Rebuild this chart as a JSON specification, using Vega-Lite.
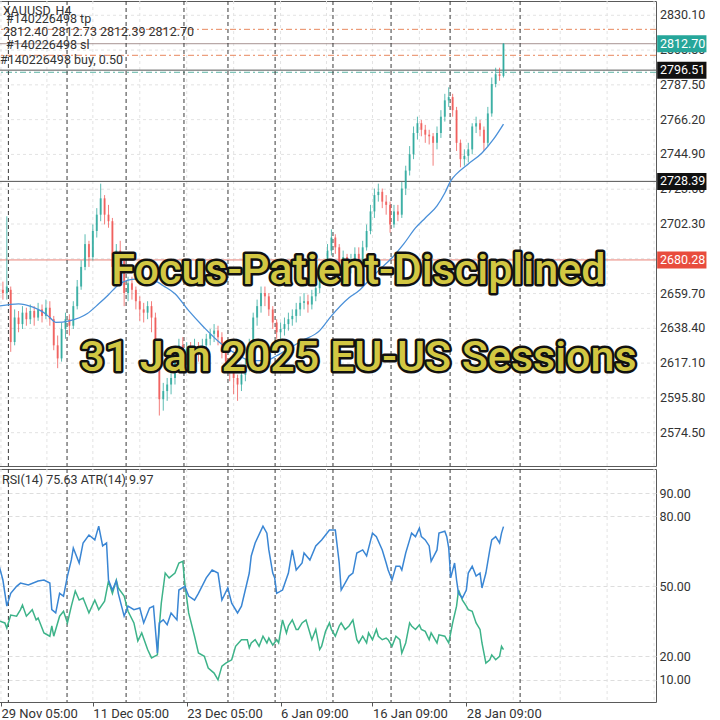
{
  "$schema": "https://vega.github.io/schema/vega-lite/v6.json",
  "padding": {"left": -5, "top": 0, "right": 0, "bottom": 0},
  "background": "white",
  "spacing": 1,
  "config": {
    "view": {"stroke": "#5a5a5a", "strokeWidth": 1},
    "font": "Roboto",
    "scale": {"continuousPadding": 0},
    "axis": {"labelFont": "Roboto", "labelFontSize": 12.5, "labelColor": "#333333", "domain": false, "ticks": false, "labelOverlap": false}
  },
  "datasets": {
    "vgrid": [{"i":1},{"i":24.5},{"i":48},{"i":72},{"i":96},{"i":120},{"i":144},{"i":167.5},{"i":191},{"i":215},{"i":239},{"i":263},{"i":287},{"i":311},{"i":335}],
    "seps": [{"i":4.8},{"i":34.8},{"i":65},{"i":94.6},{"i":117.1},{"i":141.2},{"i":170.8},{"i":200.5},{"i":230.7},{"i":266.5}],
    "pticks": [{"p":2830.1},{"p":2808.8},{"p":2787.5},{"p":2766.2},{"p":2744.9},{"p":2723.6},{"p":2702.3},{"p":2681.0},{"p":2659.7},{"p":2638.4},{"p":2617.1},{"p":2595.8},{"p":2574.5}],
    "levels": [{"k":"tp","p":2821.5},{"k":"cur","p":2812.7},{"k":"sl","p":2805.6},{"k":"buy","p":2796.51},{"k":"ask","p":2795.2},{"k":"s1","p":2728.39},{"k":"s2","p":2680.28}],
    "candles": [
      {"i":0,"o":2660,"c":2662,"h":2666,"l":2655},{"i":2,"o":2662,"c":2660,"h":2667,"l":2656},{"i":4,"o":2660,"c":2664,"h":2707,"l":2656},{"i":6,"o":2662,"c":2630,"h":2664,"l":2624},
      {"i":8,"o":2630,"c":2645,"h":2650,"l":2628},{"i":10,"o":2645,"c":2641,"h":2649,"l":2636},{"i":12,"o":2641,"c":2648,"h":2652,"l":2638},{"i":14,"o":2648,"c":2644,"h":2651,"l":2640},
      {"i":16,"o":2644,"c":2649,"h":2653,"l":2641},{"i":18,"o":2649,"c":2645,"h":2652,"l":2640},{"i":20,"o":2645,"c":2650,"h":2654,"l":2643},{"i":22,"o":2650,"c":2646,"h":2653,"l":2642},
      {"i":24,"o":2646,"c":2651,"h":2656,"l":2644},{"i":26,"o":2651,"c":2644,"h":2655,"l":2640},{"i":28,"o":2644,"c":2628,"h":2646,"l":2625},{"i":30,"o":2628,"c":2620,"h":2634,"l":2614},
      {"i":32,"o":2620,"c":2638,"h":2642,"l":2618},{"i":34,"o":2638,"c":2644,"h":2648,"l":2632},{"i":36,"o":2644,"c":2640,"h":2647,"l":2634},{"i":38,"o":2640,"c":2652,"h":2655,"l":2638},
      {"i":40,"o":2652,"c":2664,"h":2668,"l":2650},{"i":42,"o":2664,"c":2676,"h":2680,"l":2662},{"i":44,"o":2676,"c":2690,"h":2696,"l":2674},{"i":46,"o":2690,"c":2682,"h":2692,"l":2676},
      {"i":48,"o":2682,"c":2698,"h":2702,"l":2680},{"i":50,"o":2698,"c":2708,"h":2712,"l":2694},{"i":52,"o":2708,"c":2718,"h":2727,"l":2704},{"i":54,"o":2718,"c":2708,"h":2720,"l":2702},
      {"i":56,"o":2708,"c":2704,"h":2714,"l":2700},{"i":58,"o":2704,"c":2676,"h":2706,"l":2673},{"i":60,"o":2676,"c":2686,"h":2690,"l":2672},{"i":62,"o":2686,"c":2680,"h":2692,"l":2675},
      {"i":64,"o":2680,"c":2660,"h":2684,"l":2652},{"i":66,"o":2660,"c":2666,"h":2670,"l":2655},{"i":68,"o":2666,"c":2662,"h":2670,"l":2656},{"i":70,"o":2662,"c":2655,"h":2664,"l":2650},
      {"i":72,"o":2655,"c":2650,"h":2658,"l":2643},{"i":74,"o":2650,"c":2648,"h":2654,"l":2642},{"i":76,"o":2648,"c":2652,"h":2655,"l":2644},{"i":78,"o":2652,"c":2645,"h":2655,"l":2636},
      {"i":80,"o":2645,"c":2625,"h":2648,"l":2620},{"i":82,"o":2625,"c":2595,"h":2628,"l":2585},{"i":84,"o":2595,"c":2600,"h":2605,"l":2588},{"i":86,"o":2600,"c":2604,"h":2608,"l":2594},
      {"i":88,"o":2604,"c":2608,"h":2612,"l":2598},{"i":90,"o":2608,"c":2620,"h":2624,"l":2604},{"i":92,"o":2620,"c":2628,"h":2632,"l":2616},{"i":94,"o":2628,"c":2622,"h":2633,"l":2618},
      {"i":96,"o":2622,"c":2626,"h":2630,"l":2616},{"i":98,"o":2626,"c":2622,"h":2630,"l":2616},{"i":100,"o":2622,"c":2627,"h":2632,"l":2618},{"i":102,"o":2627,"c":2624,"h":2630,"l":2618},
      {"i":104,"o":2624,"c":2628,"h":2632,"l":2620},{"i":106,"o":2628,"c":2632,"h":2635,"l":2624},{"i":108,"o":2632,"c":2635,"h":2638,"l":2628},{"i":110,"o":2635,"c":2637,"h":2641,"l":2630},
      {"i":112,"o":2637,"c":2633,"h":2640,"l":2628},{"i":114,"o":2633,"c":2626,"h":2636,"l":2620},{"i":116,"o":2626,"c":2618,"h":2628,"l":2612},{"i":118,"o":2618,"c":2612,"h":2620,"l":2606},
      {"i":120,"o":2612,"c":2608,"h":2615,"l":2598},{"i":122,"o":2608,"c":2604,"h":2610,"l":2594},{"i":124,"o":2604,"c":2610,"h":2614,"l":2600},{"i":126,"o":2610,"c":2616,"h":2620,"l":2606},
      {"i":128,"o":2616,"c":2628,"h":2632,"l":2612},{"i":130,"o":2628,"c":2645,"h":2648,"l":2625},{"i":132,"o":2645,"c":2652,"h":2656,"l":2640},{"i":134,"o":2652,"c":2660,"h":2664,"l":2648},
      {"i":136,"o":2660,"c":2658,"h":2664,"l":2652},{"i":138,"o":2658,"c":2650,"h":2660,"l":2646},{"i":140,"o":2650,"c":2642,"h":2652,"l":2638},{"i":142,"o":2642,"c":2636,"h":2644,"l":2632},
      {"i":144,"o":2636,"c":2638,"h":2642,"l":2632},{"i":146,"o":2638,"c":2641,"h":2645,"l":2634},{"i":148,"o":2641,"c":2644,"h":2648,"l":2637},{"i":150,"o":2644,"c":2646,"h":2650,"l":2640},
      {"i":152,"o":2646,"c":2650,"h":2654,"l":2642},{"i":154,"o":2650,"c":2654,"h":2658,"l":2646},{"i":156,"o":2654,"c":2655,"h":2660,"l":2650},{"i":158,"o":2655,"c":2653,"h":2659,"l":2648},
      {"i":160,"o":2653,"c":2658,"h":2662,"l":2650},{"i":162,"o":2658,"c":2663,"h":2667,"l":2655},{"i":164,"o":2663,"c":2668,"h":2672,"l":2660},{"i":166,"o":2668,"c":2676,"h":2680,"l":2665},
      {"i":168,"o":2676,"c":2686,"h":2690,"l":2673},{"i":170,"o":2686,"c":2694,"h":2699,"l":2683},{"i":172,"o":2694,"c":2688,"h":2696,"l":2684},{"i":174,"o":2688,"c":2678,"h":2690,"l":2674},
      {"i":176,"o":2678,"c":2682,"h":2686,"l":2674},{"i":178,"o":2682,"c":2676,"h":2684,"l":2672},{"i":180,"o":2676,"c":2680,"h":2684,"l":2672},{"i":182,"o":2680,"c":2684,"h":2688,"l":2676},
      {"i":184,"o":2684,"c":2680,"h":2688,"l":2676},{"i":186,"o":2680,"c":2688,"h":2692,"l":2678},{"i":188,"o":2688,"c":2698,"h":2702,"l":2686},{"i":190,"o":2698,"c":2710,"h":2714,"l":2696},
      {"i":192,"o":2710,"c":2720,"h":2724,"l":2706},{"i":194,"o":2720,"c":2722,"h":2727,"l":2716},{"i":196,"o":2722,"c":2716,"h":2724,"l":2712},{"i":198,"o":2716,"c":2714,"h":2720,"l":2708},
      {"i":200,"o":2714,"c":2702,"h":2716,"l":2697},{"i":202,"o":2702,"c":2710,"h":2714,"l":2700},{"i":204,"o":2710,"c":2708,"h":2714,"l":2704},{"i":206,"o":2708,"c":2724,"h":2728,"l":2706},
      {"i":208,"o":2724,"c":2735,"h":2738,"l":2720},{"i":210,"o":2735,"c":2745,"h":2750,"l":2732},{"i":212,"o":2745,"c":2758,"h":2762,"l":2742},{"i":214,"o":2758,"c":2764,"h":2768,"l":2754},
      {"i":216,"o":2764,"c":2760,"h":2766,"l":2756},{"i":218,"o":2760,"c":2757,"h":2763,"l":2752},{"i":220,"o":2757,"c":2756,"h":2760,"l":2751},{"i":222,"o":2756,"c":2752,"h":2758,"l":2738},
      {"i":224,"o":2752,"c":2758,"h":2762,"l":2748},{"i":226,"o":2758,"c":2768,"h":2772,"l":2755},{"i":228,"o":2768,"c":2778,"h":2782,"l":2765},{"i":230,"o":2778,"c":2780,"h":2786,"l":2774},
      {"i":232,"o":2780,"c":2772,"h":2782,"l":2768},{"i":234,"o":2772,"c":2752,"h":2774,"l":2747},{"i":236,"o":2752,"c":2742,"h":2754,"l":2737},{"i":238,"o":2742,"c":2744,"h":2748,"l":2738},
      {"i":240,"o":2744,"c":2748,"h":2752,"l":2740},{"i":242,"o":2748,"c":2762,"h":2764,"l":2745},{"i":244,"o":2762,"c":2764,"h":2768,"l":2758},{"i":246,"o":2764,"c":2760,"h":2766,"l":2756},
      {"i":248,"o":2760,"c":2752,"h":2762,"l":2747},{"i":250,"o":2752,"c":2770,"h":2774,"l":2750},{"i":252,"o":2770,"c":2788,"h":2792,"l":2768},{"i":254,"o":2788,"c":2794,"h":2798,"l":2786},
      {"i":256,"o":2794,"c":2793,"h":2798,"l":2790},{"i":258,"o":2793,"c":2812.7,"h":2813,"l":2792}
    ],
    "ma": [{"i":0,"p":2652},{"i":10,"p":2653.4},{"i":17,"p":2651.5},{"i":23,"p":2648},{"i":26,"p":2645},{"i":29,"p":2642},{"i":36,"p":2643},{"i":45,"p":2647.3},{"i":51,"p":2653.4},{"i":56,"p":2659},{"i":61,"p":2665},{"i":68,"p":2668.4},{"i":72,"p":2668.7},{"i":77,"p":2668.4},{"i":80,"p":2667.5},{"i":84,"p":2664.5},{"i":90,"p":2659.6},{"i":97,"p":2649.2},{"i":105,"p":2638.8},{"i":113,"p":2629.6},{"i":121,"p":2622.9},{"i":129,"p":2618.6},{"i":136,"p":2618.6},{"i":142,"p":2621.6},{"i":148,"p":2625.9},{"i":155,"p":2630.8},{"i":164,"p":2637},{"i":170,"p":2646},{"i":179,"p":2657.1},{"i":184,"p":2661.4},{"i":189,"p":2667.5},{"i":194,"p":2673.6},{"i":201,"p":2681.6},{"i":207,"p":2690.1},{"i":213,"p":2699.9},{"i":218,"p":2706},{"i":224,"p":2713.4},{"i":228,"p":2721.3},{"i":231,"p":2728.7},{"i":234,"p":2733},{"i":240,"p":2739.1},{"i":247,"p":2745.8},{"i":253,"p":2754.4},{"i":258,"p":2763.5}],
    "rsi": [{"i":0,"v":59},{"i":2,"v":52.7},{"i":4,"v":41.5},{"i":6,"v":47},{"i":9,"v":50},{"i":11,"v":51.4},{"i":15,"v":50.6},{"i":20,"v":52.3},{"i":23,"v":52.7},{"i":26,"v":51.4},{"i":27,"v":40},{"i":29,"v":38.6},{"i":31,"v":47},{"i":33,"v":45.8},{"i":35,"v":54.4},{"i":37,"v":61.3},{"i":38,"v":66.4},{"i":41,"v":60},{"i":43,"v":68.6},{"i":46,"v":72},{"i":49,"v":69.9},{"i":51,"v":75.8},{"i":53,"v":67.3},{"i":55,"v":68.6},{"i":56,"v":52.7},{"i":58,"v":48.4},{"i":60,"v":52.3},{"i":61,"v":47},{"i":64,"v":37.2},{"i":66,"v":41.5},{"i":69,"v":40},{"i":72,"v":40.7},{"i":74,"v":34.3},{"i":77,"v":40.7},{"i":79,"v":41.5},{"i":81,"v":21.4},{"i":82,"v":34.3},{"i":84,"v":35.6},{"i":86,"v":33.5},{"i":88,"v":38.6},{"i":91,"v":35.6},{"i":92,"v":48.4},{"i":95,"v":50},{"i":97,"v":45.8},{"i":100,"v":44.1},{"i":102,"v":47},{"i":106,"v":53.6},{"i":109,"v":57},{"i":112,"v":55.7},{"i":114,"v":44.1},{"i":117,"v":49.3},{"i":119,"v":42.8},{"i":122,"v":38.6},{"i":124,"v":41.5},{"i":128,"v":55.7},{"i":129,"v":63},{"i":131,"v":68.6},{"i":135,"v":75.8},{"i":137,"v":72.8},{"i":138,"v":65.6},{"i":140,"v":55.7},{"i":141,"v":53.6},{"i":142,"v":47},{"i":145,"v":48.4},{"i":148,"v":55.7},{"i":150,"v":65.6},{"i":152,"v":57},{"i":155,"v":60},{"i":156,"v":64.3},{"i":159,"v":61.3},{"i":162,"v":67.3},{"i":165,"v":69.9},{"i":169,"v":74.1},{"i":172,"v":74.1},{"i":174,"v":60},{"i":175,"v":48.4},{"i":177,"v":51.4},{"i":179,"v":54.4},{"i":181,"v":55.7},{"i":183,"v":64.3},{"i":186,"v":65.6},{"i":188,"v":63},{"i":191,"v":72.8},{"i":193,"v":71.3},{"i":196,"v":65.6},{"i":198,"v":60},{"i":199,"v":57},{"i":201,"v":52.7},{"i":203,"v":58.6},{"i":205,"v":58.6},{"i":206,"v":57},{"i":208,"v":64.3},{"i":210,"v":69.9},{"i":211,"v":72.8},{"i":213,"v":71.3},{"i":215,"v":75},{"i":216,"v":71.3},{"i":218,"v":69.9},{"i":220,"v":67.3},{"i":221,"v":60.7},{"i":224,"v":65.6},{"i":225,"v":72.8},{"i":228,"v":73.6},{"i":229,"v":71.3},{"i":230,"v":66.4},{"i":231,"v":53.6},{"i":233,"v":60},{"i":234,"v":52.7},{"i":235,"v":47},{"i":237,"v":45},{"i":239,"v":48.4},{"i":240,"v":55.7},{"i":242,"v":58.6},{"i":244,"v":54.4},{"i":246,"v":55.7},{"i":247,"v":49.3},{"i":249,"v":55.7},{"i":251,"v":65.6},{"i":252,"v":69.9},{"i":254,"v":71.3},{"i":256,"v":68.6},{"i":257,"v":72.8},{"i":258,"v":75.6}],
    "atr": [{"i":0,"v":35.2},{"i":3,"v":34.3},{"i":4,"v":32.1},{"i":6,"v":37.7},{"i":9,"v":37.2},{"i":11,"v":40},{"i":12,"v":42},{"i":14,"v":37.2},{"i":17,"v":40},{"i":19,"v":35.6},{"i":20,"v":36.4},{"i":23,"v":30},{"i":26,"v":28.6},{"i":27,"v":33},{"i":28,"v":28.6},{"i":31,"v":37.2},{"i":33,"v":39.3},{"i":35,"v":34.3},{"i":37,"v":41.5},{"i":39,"v":48},{"i":41,"v":44.1},{"i":43,"v":45},{"i":46,"v":38.6},{"i":49,"v":44.1},{"i":51,"v":40},{"i":54,"v":43.6},{"i":56,"v":52.3},{"i":58,"v":47},{"i":60,"v":52.7},{"i":61,"v":49.3},{"i":64,"v":45.8},{"i":66,"v":39.3},{"i":69,"v":34.3},{"i":71,"v":26.6},{"i":73,"v":30},{"i":76,"v":22.9},{"i":78,"v":19.3},{"i":81,"v":20.6},{"i":82,"v":33},{"i":83,"v":42.8},{"i":85,"v":55.7},{"i":87,"v":53.6},{"i":90,"v":55.7},{"i":92,"v":60},{"i":94,"v":60.7},{"i":95,"v":51.4},{"i":97,"v":38.6},{"i":100,"v":28.6},{"i":102,"v":21.4},{"i":105,"v":20},{"i":107,"v":15},{"i":110,"v":12.8},{"i":112,"v":9.9},{"i":114,"v":15.8},{"i":116,"v":17.1},{"i":119,"v":18.5},{"i":121,"v":24.3},{"i":124,"v":27.1},{"i":127,"v":27.1},{"i":128,"v":23.6},{"i":129,"v":25.7},{"i":131,"v":27.1},{"i":133,"v":24.3},{"i":135,"v":28.6},{"i":137,"v":25.7},{"i":138,"v":27.8},{"i":140,"v":24.8},{"i":142,"v":27.1},{"i":143,"v":25.7},{"i":145,"v":35.6},{"i":147,"v":30},{"i":148,"v":33},{"i":150,"v":35.6},{"i":152,"v":31.5},{"i":153,"v":31.5},{"i":155,"v":34.3},{"i":157,"v":35.6},{"i":159,"v":30},{"i":160,"v":27.1},{"i":162,"v":31.5},{"i":164,"v":22.9},{"i":165,"v":24.3},{"i":167,"v":30.7},{"i":169,"v":34.3},{"i":170,"v":31.5},{"i":172,"v":28.6},{"i":174,"v":33},{"i":175,"v":34.3},{"i":177,"v":31.5},{"i":179,"v":33},{"i":181,"v":35.6},{"i":183,"v":27.1},{"i":184,"v":25.7},{"i":186,"v":28.6},{"i":188,"v":25.7},{"i":189,"v":30},{"i":191,"v":27.1},{"i":193,"v":31.5},{"i":194,"v":28.6},{"i":196,"v":27.1},{"i":198,"v":27.8},{"i":199,"v":27.1},{"i":201,"v":24.3},{"i":203,"v":28.6},{"i":205,"v":27.1},{"i":206,"v":21.4},{"i":208,"v":25.7},{"i":210,"v":34.3},{"i":211,"v":33},{"i":213,"v":31.5},{"i":215,"v":33.5},{"i":216,"v":31.5},{"i":218,"v":30.7},{"i":220,"v":27.1},{"i":221,"v":30},{"i":224,"v":25.7},{"i":225,"v":29.2},{"i":228,"v":28.6},{"i":229,"v":27.1},{"i":230,"v":25.7},{"i":232,"v":34.3},{"i":234,"v":41.5},{"i":235,"v":48.4},{"i":237,"v":44.1},{"i":239,"v":41.5},{"i":240,"v":40},{"i":242,"v":39.3},{"i":244,"v":34.3},{"i":246,"v":31.5},{"i":247,"v":25.7},{"i":249,"v":17.1},{"i":251,"v":18.5},{"i":252,"v":20.6},{"i":254,"v":18.5},{"i":256,"v":20},{"i":257,"v":24.3},{"i":258,"v":22.9}]
  },
  "vconcat": [
    {
      "width": 657,
      "height": 465,
      "layer": [
        {
          "data": {"name": "vgrid"},
          "mark": {"type": "rule", "color": "#e3e3e3", "strokeDash": [3, 3], "strokeWidth": 1},
          "encoding": {"x": {"field": "i", "type": "quantitative", "scale": {"domain": [0, 336], "nice": false, "zero": false, "padding": 0}, "axis": null}}
        },
        {
          "data": {"name": "pticks"},
          "mark": {"type": "rule", "color": "#e3e3e3", "strokeDash": [3, 3], "strokeWidth": 1},
          "encoding": {"y": {"field": "p", "type": "quantitative", "scale": {"domain": [2554.1, 2838.85], "nice": false, "zero": false, "padding": 0}, "axis": null}}
        },
        {
          "data": {"name": "pticks"},
          "mark": {"type": "text", "align": "left", "baseline": "middle", "color": "#333333", "fontSize": 12.5, "font": "Roboto", "clip": false},
          "encoding": {
            "x": {"datum": 338.0, "type": "quantitative", "scale": {"domain": [0, 336], "nice": false, "zero": false, "padding": 0}, "axis": null},
            "y": {"field": "p", "type": "quantitative", "scale": {"domain": [2554.1, 2838.85], "nice": false, "zero": false, "padding": 0}, "axis": null},
            "text": {"field": "p", "type": "quantitative", "format": ".2f"}
          }
        },
        {
          "data": {"name": "levels"},
          "mark": {"type": "rule", "strokeWidth": 1},
          "encoding": {
            "y": {"field": "p", "type": "quantitative", "scale": {"domain": [2554.1, 2838.85], "nice": false, "zero": false, "padding": 0}, "axis": null},
            "stroke": {"field": "k", "type": "nominal", "legend": null, "scale": {"domain": ["tp", "cur", "sl", "buy", "ask", "s1", "s2"], "range": ["#e8885e", "#a89492", "#e8885e", "#555555", "#5bb3a3", "#555555", "#e98378"]}},
            "strokeDash": {"field": "k", "type": "nominal", "legend": null, "scale": {"domain": ["tp", "cur", "sl", "buy", "ask", "s1", "s2"], "range": [[6, 3, 2, 3], [1, 0], [6, 3, 2, 3], [1, 0], [6, 3, 2, 3], [1, 0], [1, 0]]}}
          }
        },
        {
          "data": {"name": "seps"},
          "mark": {"type": "rule", "color": "#3a3a3a", "strokeDash": [4, 3], "strokeWidth": 1},
          "encoding": {"x": {"field": "i", "type": "quantitative", "scale": {"domain": [0, 336], "nice": false, "zero": false, "padding": 0}, "axis": null}}
        },
        {
          "data": {"name": "candles"},
          "mark": {"type": "rule", "strokeWidth": 1, "opacity": 0.75, "clip": true},
          "encoding": {
            "x": {"field": "i", "type": "quantitative", "scale": {"domain": [0, 336], "nice": false, "zero": false, "padding": 0}, "axis": null},
            "y": {"field": "l", "type": "quantitative", "scale": {"domain": [2554.1, 2838.85], "nice": false, "zero": false, "padding": 0}, "axis": null},
            "y2": {"field": "h"},
            "color": {"condition": {"test": "datum.c >= datum.o", "value": "#26a69a"}, "value": "#ef5350"}
          }
        },
        {
          "data": {"name": "candles"},
          "mark": {"type": "bar", "size": 2, "opacity": 0.75, "clip": true},
          "encoding": {
            "x": {"field": "i", "type": "quantitative", "scale": {"domain": [0, 336], "nice": false, "zero": false, "padding": 0}, "axis": null},
            "y": {"field": "o", "type": "quantitative", "scale": {"domain": [2554.1, 2838.85], "nice": false, "zero": false, "padding": 0}, "axis": null},
            "y2": {"field": "c"},
            "color": {"condition": {"test": "datum.c >= datum.o", "value": "#26a69a"}, "value": "#ef5350"}
          }
        },
        {
          "data": {"name": "ma"},
          "mark": {"type": "line", "color": "#4a90d9", "strokeWidth": 1.3, "interpolate": "monotone", "clip": true},
          "encoding": {
            "x": {"field": "i", "type": "quantitative", "scale": {"domain": [0, 336], "nice": false, "zero": false, "padding": 0}, "axis": null},
            "y": {"field": "p", "type": "quantitative", "scale": {"domain": [2554.1, 2838.85], "nice": false, "zero": false, "padding": 0}, "axis": null}
          }
        },
        {
          "data": {"name": "levels"},
          "transform": [{"filter": "indexof(['cur','buy','s1','s2'], datum.k) >= 0"}],
          "mark": {"type": "bar", "orient": "horizontal", "size": 17, "clip": false},
          "encoding": {
            "x": {"datum": 336.6, "type": "quantitative", "scale": {"domain": [0, 336], "nice": false, "zero": false, "padding": 0}, "axis": null},
            "x2": {"datum": 361.8},
            "y": {"field": "p", "type": "quantitative", "scale": {"domain": [2554.1, 2838.85], "nice": false, "zero": false, "padding": 0}, "axis": null},
            "fill": {"field": "k", "type": "nominal", "legend": null, "scale": {"domain": ["cur", "buy", "s1", "s2"], "range": ["#26a69a", "#111111", "#111111", "#e84c3d"]}}
          }
        },
        {
          "data": {"name": "levels"},
          "transform": [{"filter": "indexof(['cur','buy','s1','s2'], datum.k) >= 0"}],
          "mark": {"type": "text", "align": "left", "baseline": "middle", "color": "white", "fontSize": 12.5, "font": "Roboto", "clip": false},
          "encoding": {
            "x": {"datum": 338.0, "type": "quantitative", "scale": {"domain": [0, 336], "nice": false, "zero": false, "padding": 0}, "axis": null},
            "y": {"field": "p", "type": "quantitative", "scale": {"domain": [2554.1, 2838.85], "nice": false, "zero": false, "padding": 0}, "axis": null},
            "text": {"field": "p", "type": "quantitative", "format": ".2f"}
          }
        },
        {
          "data": {"values": [{}]},
          "mark": {"type": "square", "size": 1, "color": "white", "opacity": 1, "clip": false},
          "encoding": {"x": {"datum": 367.4, "type": "quantitative", "scale": {"domain": [0, 336], "nice": false, "zero": false, "padding": 0}, "axis": null}, "y": {"datum": 2838.5, "type": "quantitative", "scale": {"domain": [2554.1, 2838.85], "nice": false, "zero": false, "padding": 0}, "axis": null}}
        },
        {
          "data": {"values": [{}]},
          "mark": {"type": "text", "text": "XAUUSD, H4", "align": "left", "baseline": "middle", "color": "#333333", "fontSize": 12.5},
          "encoding": {"x": {"datum": 2, "type": "quantitative", "scale": {"domain": [0, 336], "nice": false, "zero": false, "padding": 0}, "axis": null}, "y": {"datum": 2833, "type": "quantitative", "scale": {"domain": [2554.1, 2838.85], "nice": false, "zero": false, "padding": 0}, "axis": null}}
        },
        {
          "data": {"values": [{}]},
          "mark": {"type": "text", "text": "#140226498 tp", "align": "left", "baseline": "middle", "color": "#333333", "fontSize": 12.5},
          "encoding": {"x": {"datum": 3.6, "type": "quantitative", "scale": {"domain": [0, 336], "nice": false, "zero": false, "padding": 0}, "axis": null}, "y": {"datum": 2827.6, "type": "quantitative", "scale": {"domain": [2554.1, 2838.85], "nice": false, "zero": false, "padding": 0}, "axis": null}}
        },
        {
          "data": {"values": [{}]},
          "mark": {"type": "text", "text": "2812.40 2812.73 2812.39 2812.70", "align": "left", "baseline": "middle", "color": "#333333", "fontSize": 12.5},
          "encoding": {"x": {"datum": 2, "type": "quantitative", "scale": {"domain": [0, 336], "nice": false, "zero": false, "padding": 0}, "axis": null}, "y": {"datum": 2819.7, "type": "quantitative", "scale": {"domain": [2554.1, 2838.85], "nice": false, "zero": false, "padding": 0}, "axis": null}}
        },
        {
          "data": {"values": [{}]},
          "mark": {"type": "text", "text": "#140226498 sl", "align": "left", "baseline": "middle", "color": "#333333", "fontSize": 12.5},
          "encoding": {"x": {"datum": 3.6, "type": "quantitative", "scale": {"domain": [0, 336], "nice": false, "zero": false, "padding": 0}, "axis": null}, "y": {"datum": 2811.7, "type": "quantitative", "scale": {"domain": [2554.1, 2838.85], "nice": false, "zero": false, "padding": 0}, "axis": null}}
        },
        {
          "data": {"values": [{}]},
          "mark": {"type": "text", "text": "#140226498 buy, 0.50", "align": "left", "baseline": "middle", "color": "#333333", "fontSize": 12.5},
          "encoding": {"x": {"datum": 0.5, "type": "quantitative", "scale": {"domain": [0, 336], "nice": false, "zero": false, "padding": 0}, "axis": null}, "y": {"datum": 2802.8, "type": "quantitative", "scale": {"domain": [2554.1, 2838.85], "nice": false, "zero": false, "padding": 0}, "axis": null}}
        },
        {
          "data": {"values": [{}]},
          "mark": {"type": "text", "text": ["Focus-Patient-Disciplined", "31 Jan 2025 EU-US Sessions"], "lineHeight": 87, "align": "center", "baseline": "middle", "font": "Roboto", "fontSize": 43, "fontWeight": 500, "fill": "#111111", "stroke": "#111111", "strokeWidth": 5, "strokeJoin": "round"},
          "encoding": {"x": {"datum": 183.8, "type": "quantitative", "scale": {"domain": [0, 336], "nice": false, "zero": false, "padding": 0}, "axis": null}, "y": {"datum": 2673.6, "type": "quantitative", "scale": {"domain": [2554.1, 2838.85], "nice": false, "zero": false, "padding": 0}, "axis": null}}
        },
        {
          "data": {"values": [{}]},
          "mark": {"type": "text", "text": ["Focus-Patient-Disciplined", "31 Jan 2025 EU-US Sessions"], "lineHeight": 87, "align": "center", "baseline": "middle", "font": "Roboto", "fontSize": 43, "fontWeight": 500, "fill": "#d2c742"},
          "encoding": {"x": {"datum": 183.8, "type": "quantitative", "scale": {"domain": [0, 336], "nice": false, "zero": false, "padding": 0}, "axis": null}, "y": {"datum": 2673.6, "type": "quantitative", "scale": {"domain": [2554.1, 2838.85], "nice": false, "zero": false, "padding": 0}, "axis": null}}
        }
      ]
    },
    {
      "width": 657,
      "height": 233,
      "layer": [
        {
          "data": {"name": "vgrid"},
          "mark": {"type": "rule", "color": "#e3e3e3", "strokeDash": [3, 3], "strokeWidth": 1},
          "encoding": {"x": {"field": "i", "type": "quantitative", "title": null, "scale": {"domain": [0, 336], "nice": false, "zero": false, "padding": 0},
            "axis": {"values": [1, 48, 96, 144, 191, 239], "labelExpr": "datum.value==1?'29 Nov 05:00':datum.value==48?'11 Dec 05:00':datum.value==96?'23 Dec 05:00':datum.value==144?'6 Jan 09:00':datum.value==191?'16 Jan 09:00':'28 Jan 09:00'", "labelAlign": "left", "labelFontSize": 13, "ticks": true, "tickSize": 4, "tickColor": "#555555", "labelPadding": 1, "grid": false, "labelFlush": false, "labelOverlap": false, "title": null}}}
        },
        {
          "data": {"name": "seps"},
          "mark": {"type": "rule", "color": "#3a3a3a", "strokeDash": [4, 3], "strokeWidth": 1},
          "encoding": {"x": {"field": "i", "type": "quantitative", "title": null, "scale": {"domain": [0, 336], "nice": false, "zero": false, "padding": 0}}}
        },
        {
          "data": {"name": "atr"},
          "mark": {"type": "line", "color": "#3db389", "strokeWidth": 1.5},
          "encoding": {
            "x": {"field": "i", "type": "quantitative", "title": null, "scale": {"domain": [0, 336], "nice": false, "zero": false, "padding": 0}},
            "y": {"field": "v", "type": "quantitative", "title": null, "scale": {"domain": [0.4, 100.3], "nice": false, "zero": false, "padding": 0},
                  "axis": {"orient": "right", "values": [10, 20, 50, 80, 90], "format": ".2f", "grid": true, "gridColor": "#dddddd", "gridDash": [4, 3], "labelPadding": 3, "title": null}}
          }
        },
        {
          "data": {"name": "rsi"},
          "mark": {"type": "line", "color": "#3a86d4", "strokeWidth": 1.5},
          "encoding": {
            "x": {"field": "i", "type": "quantitative", "title": null, "scale": {"domain": [0, 336], "nice": false, "zero": false, "padding": 0}},
            "y": {"field": "v", "type": "quantitative", "title": null, "scale": {"domain": [0.4, 100.3], "nice": false, "zero": false, "padding": 0}}
          }
        },
        {
          "data": {"values": [{}]},
          "mark": {"type": "square", "size": 1, "color": "white", "opacity": 1, "clip": false},
          "encoding": {"x": {"datum": 367.4, "type": "quantitative", "scale": {"domain": [0, 336], "nice": false, "zero": false, "padding": 0}}, "y": {"datum": -7.8, "type": "quantitative", "scale": {"domain": [0.4, 100.3], "nice": false, "zero": false, "padding": 0}}}
        },
        {
          "data": {"values": [{}]},
          "mark": {"type": "text", "text": "RSI(14) 75.63 ATR(14) 9.97", "align": "left", "baseline": "middle", "color": "#333333", "fontSize": 12.5},
          "encoding": {"x": {"datum": 1.5, "type": "quantitative", "scale": {"domain": [0, 336], "nice": false, "zero": false, "padding": 0}}, "y": {"datum": 95.6, "type": "quantitative", "scale": {"domain": [0.4, 100.3], "nice": false, "zero": false, "padding": 0}}}
        }
      ]
    }
  ]
}
